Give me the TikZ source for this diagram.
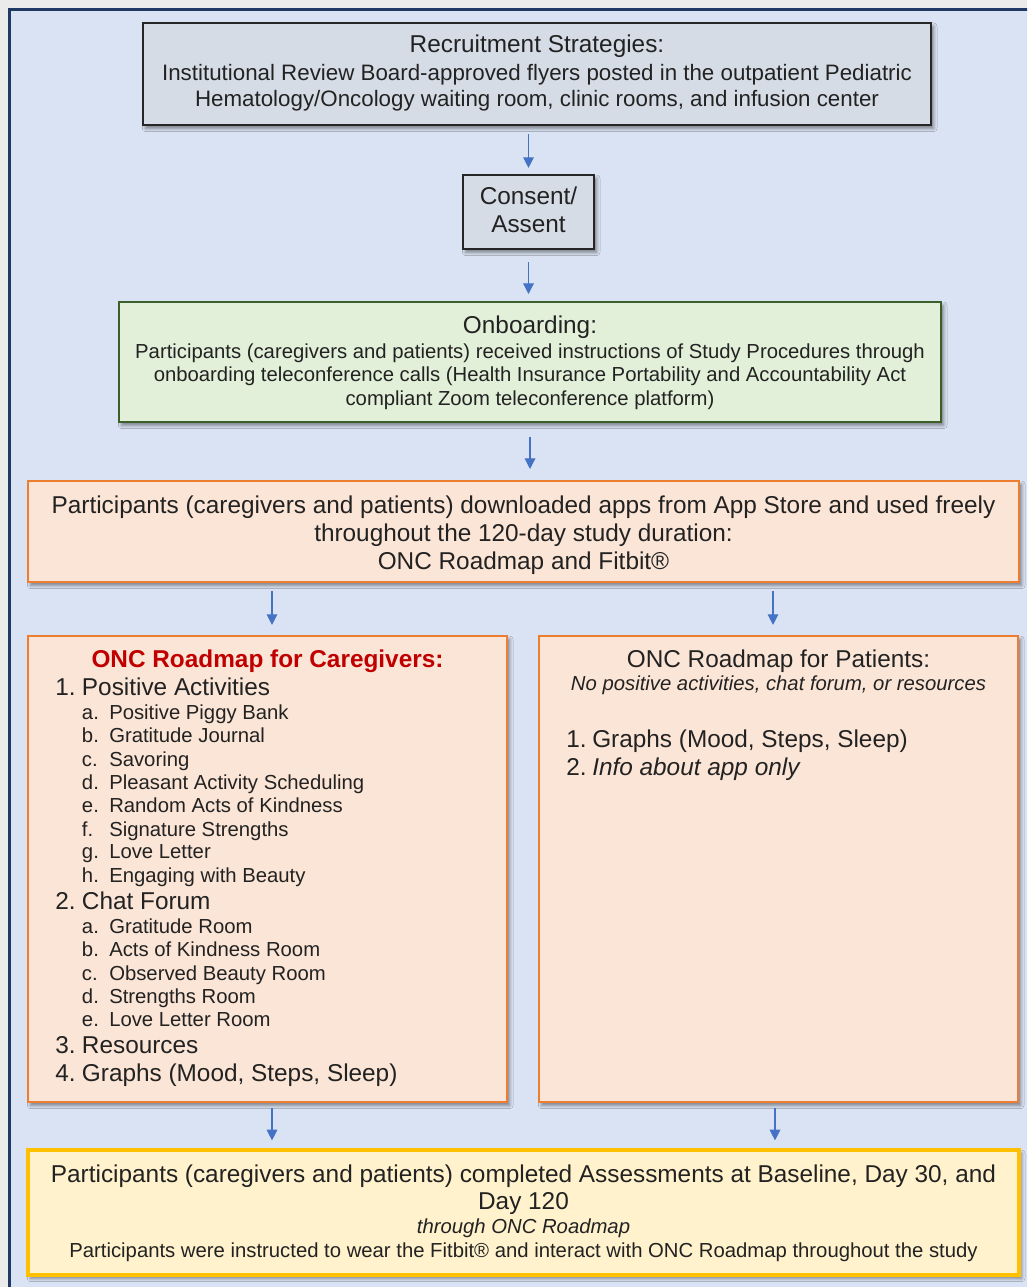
\documentclass[tikz,border=0pt]{standalone}
\usepackage{fontspec}
\setmainfont{Liberation Sans}
\usetikzlibrary{arrows.meta,shadows.blur,calc}
\definecolor{frameblue}{HTML}{203864}
\definecolor{bgblue}{HTML}{DAE3F3}
\definecolor{margingray}{HTML}{EBEBEB}
\definecolor{recfill}{HTML}{D6DCE5}
\definecolor{recdraw}{HTML}{262626}
\definecolor{txt}{HTML}{222222}
\definecolor{grfill}{HTML}{E2F0D9}
\definecolor{grdraw}{HTML}{3B5F28}
\definecolor{orfill}{HTML}{FBE5D6}
\definecolor{ordraw}{HTML}{ED7D31}
\definecolor{yefill}{HTML}{FFF2CC}
\definecolor{yedraw}{HTML}{FFC000}
\definecolor{hdred}{HTML}{C00000}
\definecolor{arrowblue}{HTML}{4472C4}
\begin{document}
\begin{tikzpicture}[x=0.75pt,y=-0.75pt,
  box/.style={rectangle, inner sep=0pt, blur shadow={shadow xshift=2pt, shadow yshift=-2.5pt, shadow blur radius=2.5pt, shadow opacity=45}},
  tc/.style={inner sep=0pt, anchor=base, text=txt},
  tl/.style={inner sep=0pt, anchor=base west, text=txt},
  fbig/.style={font=\fontsize{18.27}{21}\selectfont},
  fmid/.style={font=\fontsize{16.75}{19}\selectfont},
  fsml/.style={font=\fontsize{15.22}{18}\selectfont},
  arr/.style={draw=arrowblue, line width=0.9pt, -{Triangle[width=8pt,length=8pt]}}
]
\clip (0,0) rectangle (1027,1287);
\fill[margingray] (0,0) rectangle (1027,1287);
\draw[frameblue, line width=2.25pt, fill=bgblue] (9.5,9.5) rectangle (1045,1305);

% boxes
\node[box, draw=recdraw, fill=recfill, line width=1.6pt, minimum width=591pt, minimum height=76.5pt] (rec) at (537,74) {};
\node[box, draw=recdraw, fill=recfill, line width=1.6pt, minimum width=98.25pt, minimum height=55.5pt] (con) at (528.5,212) {};
\node[box, draw=grdraw, fill=grfill, line width=2pt, minimum width=616.5pt, minimum height=90pt] (ob) at (530,362) {};
\node[box, draw=ordraw, fill=orfill, line width=2pt, minimum width=743.25pt, minimum height=75.75pt] (dl) at (523.5,531.5) {};
\node[box, draw=ordraw, fill=orfill, line width=1.6pt, minimum width=359.25pt, minimum height=349.5pt] (cg) at (267.5,869) {};
\node[box, draw=ordraw, fill=orfill, line width=1.6pt, minimum width=359.25pt, minimum height=349.5pt] (pt) at (778.5,869) {};
\node[box, draw=yedraw, fill=yefill, line width=2.4pt, minimum width=743.25pt, minimum height=93.75pt] (fin) at (523.5,1212.5) {};

% recruitment text
\node[tc,fbig] (r1) at (537,53) {Recruitment Strategies:};
\node[tc,fmid] (r2) at (537,81) {Institutional Review Board-approved flyers posted in the outpatient Pediatric};
\node[tc,fmid] (r3) at (537,107) {Hematology/Oncology waiting room, clinic rooms, and infusion center};

% consent text
\node[tc,fbig] (c1) at (528.5,205) {Consent/};
\node[tc,fbig] (c2) at (528.5,233) {Assent};

% onboarding text
\node[tc,fbig] (o1) at (530,334) {Onboarding:};
\node[tc,fsml] (o2) at (530,358) {Participants (caregivers and patients) received instructions of Study Procedures through};
\node[tc,fsml] (o3) at (530,381) {onboarding teleconference calls (Health Insurance Portability and Accountability Act};
\node[tc,fsml] (o4) at (530,405) {compliant Zoom teleconference platform)};

% download text
\node[tc,fbig] (d1) at (523.5,513) {Participants (caregivers and patients) downloaded apps from App Store and used freely};
\node[tc,fbig] (d2) at (523.5,541) {throughout the 120-day study duration:};
\node[tc,fbig] (d3) at (523.5,569) {ONC Roadmap and Fitbit®};

% caregivers
\node[tc,font=\fontsize{18.27}{21}\selectfont\bfseries,text=hdred] (cgt) at (267.5,667) {ONC Roadmap for Caregivers:};
\node[tl,fbig] (n1) at (55,695) {1.};
\node[tl,fbig] (m1) at (81.7,695) {Positive Activities};
\node[tl,fsml] (l1a) at (81.7,719.3) {a.};
\node[tl,fsml] (s1a) at (109,719.3) {Positive Piggy Bank};
\node[tl,fsml] (l1b) at (81.7,742.7) {b.};
\node[tl,fsml] (s1b) at (109,742.7) {Gratitude Journal};
\node[tl,fsml] (l1c) at (81.7,766) {c.};
\node[tl,fsml] (s1c) at (109,766) {Savoring};
\node[tl,fsml] (l1d) at (81.7,789.3) {d.};
\node[tl,fsml] (s1d) at (109,789.3) {Pleasant Activity Scheduling};
\node[tl,fsml] (l1e) at (81.7,812.7) {e.};
\node[tl,fsml] (s1e) at (109,812.7) {Random Acts of Kindness};
\node[tl,fsml] (l1f) at (81.7,836) {f.};
\node[tl,fsml] (s1f) at (109,836) {Signature Strengths};
\node[tl,fsml] (l1g) at (81.7,858.7) {g.};
\node[tl,fsml] (s1g) at (109,858.7) {Love Letter};
\node[tl,fsml] (l1h) at (81.7,882.7) {h.};
\node[tl,fsml] (s1h) at (109,882.7) {Engaging with Beauty};
\node[tl,fbig] (n2) at (55,909.3) {2.};
\node[tl,fbig] (m2) at (81.7,909.3) {Chat Forum};
\node[tl,fsml] (l2a) at (81.7,933.3) {a.};
\node[tl,fsml] (s2a) at (109,933.3) {Gratitude Room};
\node[tl,fsml] (l2b) at (81.7,956.7) {b.};
\node[tl,fsml] (s2b) at (109,956.7) {Acts of Kindness Room};
\node[tl,fsml] (l2c) at (81.7,980) {c.};
\node[tl,fsml] (s2c) at (109,980) {Observed Beauty Room};
\node[tl,fsml] (l2d) at (81.7,1003.3) {d.};
\node[tl,fsml] (s2d) at (109,1003.3) {Strengths Room};
\node[tl,fsml] (l2e) at (81.7,1026.7) {e.};
\node[tl,fsml] (s2e) at (109,1026.7) {Love Letter Room};
\node[tl,fbig] (n3) at (55,1053.3) {3.};
\node[tl,fbig] (m3) at (81.7,1053.3) {Resources};
\node[tl,fbig] (n4) at (55,1081.7) {4.};
\node[tl,fbig] (m4) at (81.7,1081.7) {Graphs (Mood, Steps, Sleep)};

% patients
\node[tc,fbig] (ptt) at (778.5,667) {ONC Roadmap for Patients:};
\node[tc,font=\fontsize{15.22}{18}\selectfont\itshape] (pts) at (778.5,690) {No positive activities, chat forum, or resources};
\node[tl,fbig] (p1n) at (566,747) {1.};
\node[tl,fbig] (p1) at (592,747) {Graphs (Mood, Steps, Sleep)};
\node[tl,fbig] (p2n) at (566,775) {2.};
\node[tl,font=\fontsize{18.27}{21}\selectfont\itshape] (p2) at (592,775) {Info about app only};

% final
\node[tc,fbig] (f1) at (523.5,1182) {Participants (caregivers and patients) completed Assessments at Baseline, Day 30, and};
\node[tc,fbig] (f2) at (523.5,1209) {Day 120};
\node[tc,font=\fontsize{15.22}{18}\selectfont\itshape] (f3) at (523.5,1233) {through ONC Roadmap};
\node[tc,fsml] (f4) at (523.5,1257) {Participants were instructed to wear the Fitbit® and interact with ONC Roadmap throughout the study};

% connectors
\coordinate (cgin) at ($(cg.north)+(4.5,0)$);
\coordinate (ptin) at ($(pt.north)+(-5.5,0)$);
\coordinate (cgout) at ($(cg.south)+(4.5,0)$);
\coordinate (ptout) at ($(pt.south)+(-3.5,0)$);
\draw[arr, shorten <=6pt, shorten >=4.5pt] (con.north |- rec.south) -- (con.north);
\draw[arr, shorten <=9pt, shorten >=5pt] (con.south) -- (con.south |- ob.north);
\draw[arr, shorten <=10pt, shorten >=8pt] (ob.south) -- (ob.south |- dl.north);
\draw[arr, shorten <=6pt, shorten >=7.5pt] (cgin |- dl.south) -- (cgin);
\draw[arr, shorten <=6pt, shorten >=7.5pt] (ptin |- dl.south) -- (ptin);
\draw[arr, shorten <=4pt, shorten >=6pt] (cgout) -- (cgout |- fin.north);
\draw[arr, shorten <=4pt, shorten >=6pt] (ptout) -- (ptout |- fin.north);
\end{tikzpicture}
\end{document}
